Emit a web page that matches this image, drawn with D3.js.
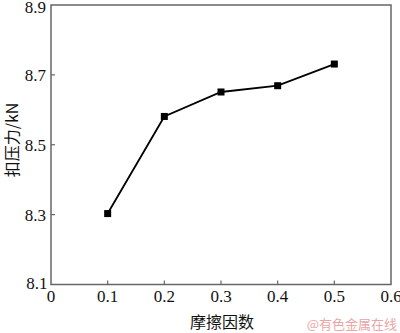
<!DOCTYPE html>
<html>
<head>
<meta charset="utf-8">
<script src="https://cdn.jsdelivr.net/npm/d3@7"></script>
<style>
  body { margin: 0; background: #fff; }
  svg text { fill: #111; }
</style>
</head>
<body>
<svg id="chart" width="400" height="333"></svg>
<script>
// friction coefficient vs crimping force
var friction = [0.1, 0.2, 0.3, 0.4, 0.5];
var force = [8.303, 8.581, 8.651, 8.669, 8.731];
var xTicks = [0, 0.1, 0.2, 0.3, 0.4, 0.5, 0.6];
var yTicks = [8.1, 8.3, 8.5, 8.7, 8.9];

var serif = "'Liberation Serif', 'Times New Roman', serif";
var cjk = "'Noto Sans CJK SC', sans-serif";

var svg = d3.select("#chart");
var plotLeft = 51, plotRight = 391, plotTop = 5, plotBottom = 284.5;

var x = d3.scaleLinear().domain([0, 0.6]).range([plotLeft, plotRight]);
var y = d3.scaleLinear().domain([8.1, 8.9]).range([plotBottom, plotTop]);
var axisColor = "#666";

// frame
svg.append("rect")
  .attr("x", plotLeft).attr("y", plotTop)
  .attr("width", plotRight - plotLeft).attr("height", plotBottom - plotTop)
  .attr("fill", "none").attr("stroke", axisColor).attr("stroke-width", 1.5);

// inner ticks
svg.append("g").selectAll("line")
  .data(xTicks.slice(1, -1))
  .enter().append("line")
    .attr("x1", function(d) { return x(d); }).attr("x2", function(d) { return x(d); })
    .attr("y1", plotBottom).attr("y2", plotBottom - 4)
    .attr("stroke", axisColor).attr("stroke-width", 1.2);

svg.append("g").selectAll("line")
  .data(yTicks.slice(1, -1))
  .enter().append("line")
    .attr("x1", plotLeft).attr("x2", plotLeft + 4)
    .attr("y1", function(d) { return y(d); }).attr("y2", function(d) { return y(d); })
    .attr("stroke", axisColor).attr("stroke-width", 1.2);

// tick labels
svg.append("g").selectAll("text")
  .data(xTicks)
  .enter().append("text")
    .attr("font-family", serif)
    .attr("font-size", 17)
    .attr("x", function(d) { return x(d); })
    .attr("y", 302)
    .attr("text-anchor", "middle")
    .text(function(d) { return d === 0 ? "0" : d3.format(".1f")(d); });

svg.append("g").selectAll("text")
  .data(yTicks)
  .enter().append("text")
    .attr("font-family", serif)
    .attr("font-size", 17)
    .attr("x", function(d) { return d === 8.1 ? 47.5 : 46; })
    .attr("y", function(d) {
      if (d === 8.9) return 13;
      return (d === 8.1 ? y(d) - 2 : y(d)) + 6;
    })
    .attr("text-anchor", "end")
    .text(function(d) { return d3.format(".1f")(d); });

// axis titles
svg.append("text")
  .attr("font-family", cjk)
  .attr("font-size", 16)
  .attr("x", 222).attr("y", 328)
  .attr("text-anchor", "middle")
  .text("摩擦因数");

svg.append("text")
  .attr("font-family", cjk)
  .attr("font-size", 16)
  .attr("transform", "translate(18,140) rotate(-90)")
  .attr("text-anchor", "middle")
  .text("扣压力/kN");

// series
var pts = friction.map(function(f, i) { return [f, force[i]]; });
var line = d3.line()
  .x(function(d) { return x(d[0]); })
  .y(function(d) { return y(d[1]); });

svg.append("path")
  .datum(pts)
  .attr("d", line)
  .attr("fill", "none")
  .attr("stroke", "#000")
  .attr("stroke-width", 1.8);

svg.append("g").selectAll("rect")
  .data(pts)
  .enter().append("rect")
    .attr("x", function(d) { return x(d[0]) - 3.5; })
    .attr("y", function(d) { return y(d[1]) - 3.5; })
    .attr("width", 7).attr("height", 7)
    .attr("fill", "#000");

// watermark
svg.append("text")
  .attr("x", 397).attr("y", 329)
  .attr("text-anchor", "end")
  .attr("font-family", cjk)
  .attr("font-size", 13)
  .style("fill", "#eaa6a6")
  .text("@有色金属在线");
</script>
</body>
</html>
